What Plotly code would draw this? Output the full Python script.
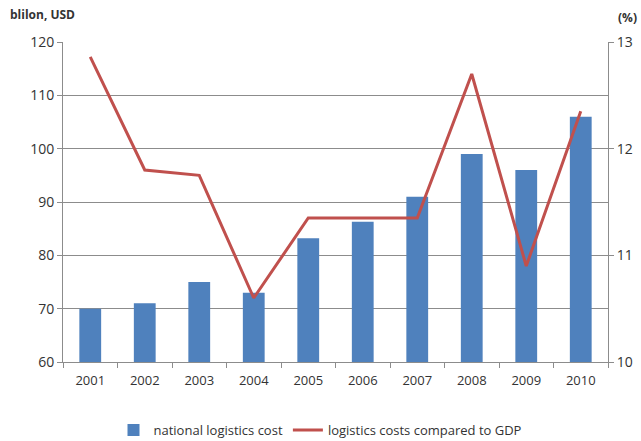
import plotly.graph_objects as go

years = ["2001", "2002", "2003", "2004", "2005", "2006", "2007", "2008", "2009", "2010"]
logistics_cost = [70, 71, 75, 73, 83.2, 86.3, 91, 99, 96, 106]
cost_to_gdp = [12.86, 11.8, 11.75, 10.6, 11.35, 11.35, 11.35, 12.7, 10.9, 12.35]

FONT = "Open Sans"
TXT = "#333333"
GRID = "#8c8c8c"

fig = go.Figure()
fig.add_trace(go.Bar(
    x=years, y=logistics_cost, name="national logistics cost",
    marker=dict(color="#4F81BD", line=dict(width=0)),
    yaxis="y",
))
fig.add_trace(go.Scatter(
    x=years, y=cost_to_gdp, name="logistics costs compared to GDP",
    mode="lines", line=dict(color="#C0504D", width=3),
    yaxis="y2",
))

fig.update_layout(
    width=641, height=441,
    margin=dict(l=63, r=33, t=42, b=79, autoexpand=False),
    paper_bgcolor="white", plot_bgcolor="white",
    font=dict(family=FONT, size=12, color=TXT),
    bargap=0.6,
    showlegend=True,
    legend=dict(orientation="h", xref="container", yref="container",
                x=0.5, xanchor="center", y=0.025, yanchor="middle",
                font=dict(size=13, color=TXT), itemwidth=30),
    xaxis=dict(
        type="category", showgrid=False, showline=True, linecolor=GRID,
        ticks="outside", tickson="boundaries", ticklen=5, tickcolor=GRID,
        tickfont=dict(size=13, color=TXT), automargin=False, ticklabelstandoff=6,
    ),
    yaxis=dict(
        range=[60, 120], dtick=10, showgrid=True, gridcolor=GRID, gridwidth=1,
        showline=True, linecolor=GRID, ticks="outside", ticklen=5, tickcolor=GRID,
        tickfont=dict(size=14, color=TXT), zeroline=False, automargin=False,
    ),
    yaxis2=dict(
        range=[10, 13], dtick=1, overlaying="y", side="right", showgrid=False,
        showline=True, linecolor=GRID, ticks="outside", ticklen=5, tickcolor=GRID,
        tickfont=dict(size=14, color=TXT), zeroline=False, automargin=False,
    ),
    annotations=[
        dict(text="<b>blilon, USD</b>", xref="paper", yref="paper", x=-0.101, y=1.087,
             xanchor="left", yanchor="middle", showarrow=False, font=dict(size=12, color=TXT)),
        dict(text="<b>(%)</b>", xref="paper", yref="paper", x=1.057, y=1.078,
             xanchor="right", yanchor="middle", showarrow=False, font=dict(size=12, color=TXT)),
    ],
)

fig.write_html("out.html", config={"displayModeBar": False},
               post_script="document.body.style.margin='0';")
